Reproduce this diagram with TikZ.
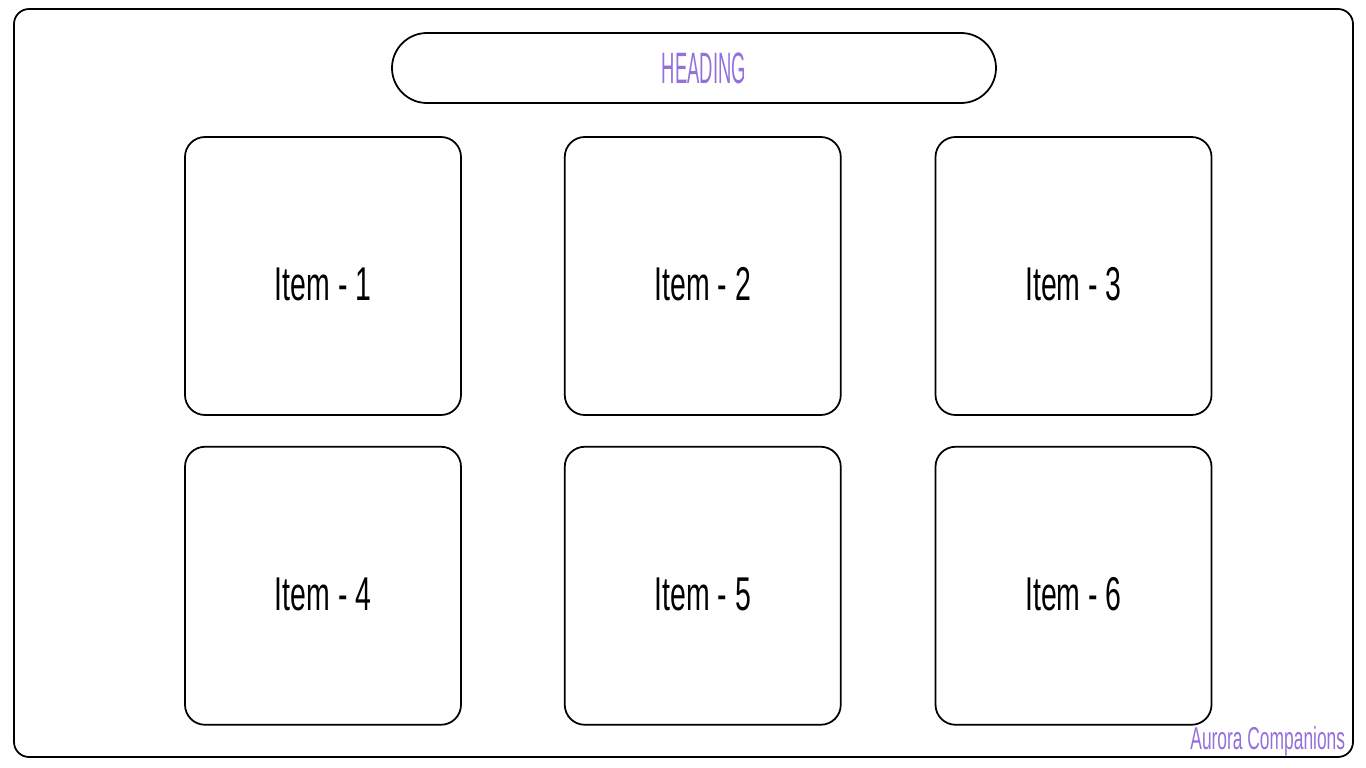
\documentclass[tikz,border=0pt]{standalone}
\usepackage{fontspec}
\usepackage{tikz}
\usetikzlibrary{positioning}
\newfontfamily\itemfont[FakeStretch=0.6]{Liberation Sans}
\newfontfamily\headfont[FakeStretch=0.42]{Liberation Sans}
\newfontfamily\markfont[FakeStretch=0.55]{Liberation Sans}
\definecolor{lavender}{RGB}{147,112,219}

\begin{document}
\begin{tikzpicture}[
		line width=1pt,
		frame/.style={draw, rounded corners=0.3cm},
		head/.style={draw, rounded corners=0.7cm, minimum width=12.08cm, minimum height=1.4cm, inner sep=0pt},
		headtext/.style={font=\headfont\fontsize{25}{25}\selectfont, text=lavender, xshift=0.2cm},
		item/.style={draw, rounded corners=0.4cm, minimum width=5.52cm, minimum height=5.56cm, inner sep=0pt},
		itemtext/.style={font=\itemfont\fontsize{27}{27}\selectfont, yshift=-0.17cm},
		brandtext/.style={font=\markfont\fontsize{18}{18}\selectfont, text=lavender, inner sep=0pt}
	]
		\useasboundingbox (0,0) rectangle (27.32,-15.36);
		\draw[frame] (0.28,-0.18) rectangle (27.06,-15.14);

		\node[head, label={[headtext]center:HEADING}] (heading) at (13.88,-1.36) {};

		% top row
		\node[item, label={[itemtext]center:Item - 1}] (item1) at (6.46,-5.52) {};
		\node[item, right=2.04cm of item1, label={[itemtext]center:Item - 2}] (item2) {};
		\node[item, right=1.86cm of item2, label={[itemtext]center:Item - 3}] (item3) {};

		% bottom row
		\node[item, below=0.60cm of item1, label={[itemtext]center:Item - 4}] (item4) {};
		\node[item, below=0.60cm of item2, label={[itemtext]center:Item - 5}] (item5) {};
		\node[item, below=0.60cm of item3, label={[itemtext]center:Item - 6}] (item6) {};

		\node[brandtext, anchor=base east] (brand) at (26.92,-14.98) {Aurora Companions};
	\end{tikzpicture}
\end{document}
